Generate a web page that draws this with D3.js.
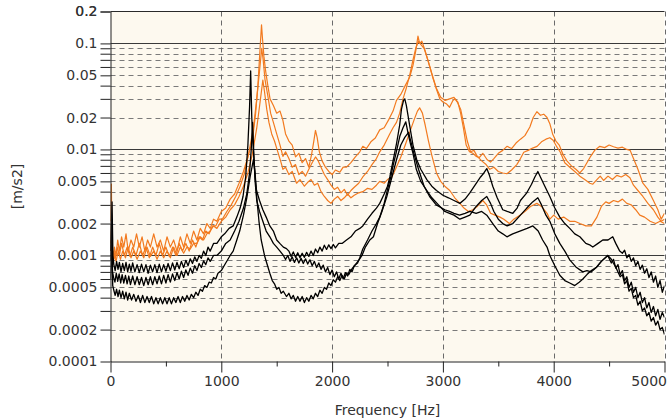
<!DOCTYPE html>
<html>
<head>
<meta charset="utf-8">
<script src="https://cdn.jsdelivr.net/npm/d3@7"></script>
<style>
  body { margin: 0; background: #fff; }
  svg { display: block; font-family: "DejaVu Sans", sans-serif; }
</style>
</head>
<body>
<script>
// spectra: [frequency Hz, acceleration m/s2]
const orange1 = [[0,0.0021],[8,0.0047],[14,0.0011],[22,0.00085],[35,0.0012],[50,0.001],[65,0.0014],[80,0.0011],[100,0.0015],[120,0.0012],[140,0.0016],[160,0.0011],[185,0.0014],[210,0.0012],[235,0.0016],[260,0.0012],[285,0.0015],[310,0.0011],[335,0.0014],[360,0.0012],[390,0.0016],[420,0.0012],[450,0.0014],[480,0.0011],[510,0.0015],[540,0.0012],[570,0.0014],[600,0.0011],[630,0.0015],[660,0.0012],[690,0.0016],[720,0.0013],[750,0.0017],[780,0.0014],[810,0.0018],[840,0.0016],[870,0.002],[900,0.0018],[930,0.0022],[960,0.0021],[1000,0.0026],[1040,0.0028],[1080,0.0034],[1120,0.0038],[1160,0.0048],[1200,0.0062],[1240,0.0085],[1280,0.012],[1310,0.022],[1330,0.04],[1350,0.09],[1363,0.15],[1372,0.11],[1385,0.075],[1400,0.055],[1420,0.04],[1440,0.03],[1470,0.026],[1500,0.022],[1530,0.023],[1555,0.019],[1580,0.014],[1610,0.012],[1640,0.011],[1670,0.0085],[1700,0.0092],[1730,0.0075],[1760,0.0082],[1790,0.0068],[1815,0.009],[1835,0.012],[1850,0.0151],[1865,0.013],[1885,0.0095],[1910,0.0078],[1940,0.0068],[1970,0.0062],[2000,0.0058],[2030,0.0064],[2070,0.0061],[2100,0.0068],[2130,0.0068],[2170,0.0075],[2210,0.0085],[2250,0.0095],[2277,0.0107],[2310,0.0102],[2350,0.0118],[2390,0.0128],[2430,0.0153],[2470,0.016],[2510,0.019],[2550,0.023],[2581,0.029],[2620,0.033],[2660,0.04],[2700,0.048],[2730,0.062],[2755,0.085],[2775,0.117],[2790,0.1],[2810,0.105],[2840,0.085],[2880,0.061],[2910,0.047],[2942,0.037],[2972,0.03],[3000,0.028],[3030,0.027],[3060,0.025],[3090,0.029],[3110,0.03],[3135,0.028],[3160,0.022],[3185,0.016],[3210,0.011],[3240,0.0095],[3270,0.0092],[3300,0.0086],[3330,0.0084],[3360,0.0092],[3400,0.008],[3430,0.0076],[3460,0.0082],[3500,0.0092],[3540,0.0098],[3578,0.0107],[3620,0.0102],[3660,0.0115],[3700,0.0125],[3740,0.0135],[3785,0.0163],[3815,0.02],[3848,0.0227],[3880,0.021],[3910,0.0215],[3940,0.02],[3965,0.0175],[3990,0.014],[4020,0.012],[4050,0.011],[4083,0.009],[4119,0.0078],[4160,0.007],[4200,0.0065],[4236,0.006],[4270,0.0066],[4300,0.0075],[4330,0.0085],[4370,0.0098],[4416,0.0107],[4460,0.0104],[4500,0.011],[4540,0.0106],[4580,0.0103],[4620,0.0105],[4660,0.01],[4690,0.0098],[4720,0.0082],[4760,0.0065],[4805,0.0048],[4850,0.0042],[4900,0.0033],[4940,0.0027],[4970,0.0022],[5000,0.0025]];

const orange2 = [[0,0.0013],[10,0.0024],[18,0.0009],[30,0.0011],[45,0.00095],[60,0.0012],[80,0.001],[100,0.0013],[125,0.001],[150,0.0012],[175,0.00098],[200,0.0012],[230,0.001],[260,0.0013],[290,0.001],[320,0.0012],[350,0.00095],[380,0.0012],[410,0.001],[440,0.0013],[470,0.001],[500,0.0012],[530,0.00098],[560,0.0012],[590,0.001],[620,0.0013],[650,0.0011],[680,0.0013],[710,0.0011],[740,0.0014],[770,0.0012],[800,0.0015],[830,0.0014],[860,0.0017],[890,0.0016],[920,0.0019],[950,0.0019],[980,0.0022],[1010,0.0022],[1050,0.0026],[1090,0.003],[1130,0.0036],[1170,0.0045],[1210,0.006],[1250,0.0095],[1290,0.016],[1320,0.03],[1345,0.055],[1365,0.09],[1378,0.07],[1395,0.045],[1420,0.032],[1445,0.022],[1470,0.018],[1500,0.014],[1530,0.011],[1556,0.0086],[1580,0.0095],[1610,0.0082],[1640,0.0068],[1670,0.0072],[1700,0.0058],[1730,0.0062],[1760,0.0056],[1790,0.0065],[1820,0.0075],[1850,0.0085],[1875,0.0078],[1900,0.0068],[1930,0.0058],[1960,0.0052],[1990,0.0046],[2020,0.0042],[2050,0.0044],[2080,0.0039],[2110,0.0042],[2140,0.0037],[2170,0.0041],[2200,0.0044],[2240,0.0048],[2277,0.0055],[2320,0.0062],[2360,0.0072],[2400,0.0082],[2430,0.0095],[2470,0.011],[2520,0.014],[2550,0.016],[2581,0.018],[2610,0.022],[2640,0.03],[2670,0.038],[2700,0.05],[2730,0.07],[2755,0.09],[2780,0.105],[2800,0.098],[2830,0.09],[2860,0.072],[2900,0.052],[2940,0.038],[2980,0.031],[3020,0.029],[3060,0.03],[3100,0.031],[3130,0.028],[3160,0.024],[3190,0.017],[3220,0.012],[3250,0.0095],[3280,0.0098],[3310,0.0086],[3350,0.0078],[3390,0.0072],[3423,0.0065],[3460,0.0068],[3500,0.0062],[3540,0.006],[3578,0.0059],[3620,0.0064],[3667,0.0072],[3700,0.0082],[3730,0.0094],[3770,0.0098],[3810,0.0103],[3850,0.0107],[3890,0.0118],[3930,0.0125],[3965,0.0129],[3995,0.0122],[4030,0.0105],[4060,0.0094],[4100,0.0075],[4145,0.0068],[4190,0.0062],[4236,0.0056],[4280,0.0052],[4326,0.0048],[4353,0.0047],[4390,0.0052],[4420,0.0056],[4450,0.0051],[4490,0.0056],[4530,0.0052],[4570,0.0057],[4610,0.0055],[4650,0.0058],[4688,0.0054],[4720,0.0046],[4760,0.0041],[4805,0.0036],[4850,0.0031],[4900,0.0027],[4940,0.0023],[4970,0.0021],[5000,0.0022]];

const orange3 = [[0,0.0011],[12,0.0016],[20,0.0008],[35,0.001],[50,0.00088],[70,0.0011],[90,0.00092],[110,0.0011],[135,0.00095],[160,0.0012],[185,0.00095],[210,0.0011],[240,0.00092],[270,0.0011],[300,0.00095],[330,0.0012],[360,0.00098],[390,0.0011],[420,0.00092],[450,0.0011],[480,0.00095],[510,0.0011],[540,0.00095],[570,0.0012],[600,0.001],[630,0.0012],[660,0.00105],[690,0.0012],[720,0.00115],[750,0.0013],[780,0.0013],[810,0.0015],[840,0.0014],[870,0.0016],[900,0.0017],[930,0.0019],[960,0.0018],[1000,0.0021],[1040,0.0023],[1080,0.0027],[1120,0.003],[1160,0.0036],[1200,0.0045],[1240,0.006],[1280,0.009],[1320,0.016],[1350,0.028],[1375,0.045],[1390,0.035],[1410,0.024],[1430,0.018],[1455,0.014],[1480,0.012],[1510,0.0095],[1535,0.0078],[1556,0.0065],[1580,0.0068],[1610,0.0058],[1640,0.0062],[1679,0.0048],[1710,0.0052],[1750,0.0045],[1780,0.0049],[1810,0.0052],[1840,0.0046],[1870,0.0048],[1900,0.004],[1930,0.0036],[1960,0.0033],[1990,0.0031],[2020,0.0034],[2050,0.0036],[2080,0.0033],[2110,0.0035],[2140,0.0038],[2170,0.0035],[2200,0.0037],[2240,0.0039],[2277,0.004],[2320,0.0043],[2360,0.0042],[2400,0.0046],[2430,0.005],[2470,0.0048],[2500,0.0052],[2540,0.0055],[2580,0.0068],[2620,0.0085],[2660,0.011],[2700,0.0145],[2740,0.019],[2770,0.023],[2790,0.0247],[2815,0.022],[2840,0.017],[2870,0.012],[2900,0.0088],[2942,0.006],[2980,0.005],[3017,0.0045],[3062,0.0041],[3107,0.0035],[3153,0.0031],[3190,0.0028],[3230,0.0026],[3270,0.0027],[3310,0.0029],[3360,0.0033],[3395,0.003],[3430,0.0025],[3470,0.0024],[3515,0.0023],[3550,0.0022],[3600,0.002],[3640,0.0022],[3695,0.0024],[3740,0.0026],[3790,0.0029],[3848,0.0031],[3890,0.0029],[3940,0.0025],[3965,0.0022],[4000,0.0024],[4040,0.0022],[4090,0.0023],[4145,0.0021],[4190,0.0021],[4236,0.002],[4290,0.0019],[4340,0.0019],[4390,0.0023],[4430,0.0029],[4470,0.0032],[4500,0.0031],[4540,0.0033],[4580,0.0032],[4620,0.0034],[4660,0.0031],[4700,0.003],[4740,0.0027],[4777,0.0024],[4820,0.0023],[4870,0.0021],[4920,0.002],[4960,0.0021],[5000,0.002]];

const black1 = [[0,0.0011],[14,0.0032],[22,0.001],[30,0.00082],[42,0.00072],[55,0.00088],[68,0.00074],[80,0.00086],[95,0.0007],[110,0.00084],[125,0.00072],[140,0.00086],[155,0.0007],[170,0.00083],[185,0.00071],[200,0.00085],[220,0.0007],[240,0.00082],[260,0.00069],[280,0.00083],[300,0.0007],[320,0.00082],[340,0.00068],[360,0.00081],[380,0.0007],[400,0.00082],[420,0.00069],[440,0.00083],[460,0.0007],[480,0.00082],[500,0.00071],[520,0.00084],[540,0.00072],[560,0.00085],[580,0.00073],[600,0.00086],[620,0.00075],[640,0.00088],[660,0.00077],[680,0.0009],[700,0.0008],[720,0.00093],[740,0.00084],[760,0.00097],[780,0.00088],[800,0.001],[820,0.00094],[840,0.0011],[860,0.001],[880,0.0012],[900,0.0011],[930,0.0013],[960,0.0013],[1000,0.0015],[1030,0.0016],[1070,0.0018],[1107,0.0019],[1140,0.0023],[1170,0.0028],[1196,0.0036],[1220,0.0055],[1240,0.011],[1255,0.025],[1265,0.055],[1275,0.02],[1290,0.0095],[1305,0.0055],[1318,0.0041],[1345,0.0033],[1375,0.0027],[1405,0.0023],[1438,0.0019],[1470,0.0017],[1500,0.0014],[1528,0.0013],[1560,0.0012],[1588,0.00116],[1610,0.0011],[1630,0.00098],[1650,0.00108],[1670,0.00096],[1690,0.00106],[1710,0.00095],[1730,0.00105],[1750,0.00096],[1770,0.00107],[1790,0.00098],[1810,0.0011],[1830,0.001],[1850,0.00115],[1870,0.00106],[1890,0.0012],[1910,0.0011],[1930,0.00125],[1950,0.00114],[1970,0.00126],[1990,0.00116],[2010,0.00127],[2030,0.00118],[2060,0.0013],[2090,0.0013],[2130,0.0014],[2170,0.0015],[2210,0.0017],[2250,0.0018],[2277,0.0019],[2320,0.0022],[2360,0.0025],[2400,0.0028],[2430,0.0031],[2470,0.0038],[2500,0.0045],[2521,0.0055],[2550,0.0078],[2581,0.0113],[2610,0.017],[2626,0.024],[2645,0.029],[2656,0.03],[2670,0.026],[2685,0.021],[2701,0.0166],[2730,0.011],[2764,0.008],[2800,0.0065],[2855,0.0052],[2900,0.0045],[2942,0.0041],[3000,0.0037],[3050,0.0035],[3100,0.0033],[3153,0.0031],[3200,0.0034],[3243,0.0039],[3290,0.0046],[3340,0.0055],[3370,0.006],[3396,0.0066],[3420,0.0057],[3450,0.0045],[3490,0.0035],[3540,0.0027],[3580,0.0026],[3631,0.0025],[3670,0.0028],[3700,0.0033],[3757,0.0039],[3800,0.0047],[3830,0.0055],[3857,0.0062],[3880,0.0055],[3920,0.0045],[3965,0.0036],[4010,0.0028],[4055,0.0023],[4100,0.002],[4145,0.0018],[4190,0.0016],[4236,0.0015],[4290,0.0013],[4330,0.00125],[4353,0.0012],[4400,0.0013],[4443,0.0014],[4490,0.0014],[4533,0.0015],[4560,0.0013],[4596,0.0011],[4620,0.00105],[4640,0.00112],[4660,0.00095],[4680,0.00102],[4700,0.00088],[4720,0.00095],[4740,0.0008],[4760,0.00088],[4780,0.00074],[4800,0.00081],[4820,0.00068],[4840,0.00075],[4860,0.00062],[4880,0.0007],[4900,0.00056],[4920,0.00064],[4940,0.0005],[4960,0.00058],[4980,0.00045],[5000,0.00052]];

const black2 = [[0,0.0009],[10,0.0022],[18,0.0007],[28,0.00062],[40,0.00056],[52,0.00068],[65,0.00057],[78,0.00067],[92,0.00055],[105,0.00066],[120,0.00055],[135,0.00065],[150,0.00054],[165,0.00064],[180,0.00053],[200,0.00064],[220,0.00053],[240,0.00063],[260,0.00053],[280,0.00062],[300,0.00052],[320,0.00062],[340,0.00053],[360,0.00063],[380,0.00053],[400,0.00063],[420,0.00054],[440,0.00064],[460,0.00054],[480,0.00065],[500,0.00055],[520,0.00066],[540,0.00056],[560,0.00067],[580,0.00058],[600,0.00069],[620,0.0006],[640,0.00071],[660,0.00062],[680,0.00073],[700,0.00065],[720,0.00076],[740,0.00068],[760,0.0008],[780,0.00072],[800,0.00084],[820,0.00077],[840,0.00089],[860,0.00082],[880,0.00095],[900,0.00088],[930,0.001],[960,0.001],[1000,0.0011],[1040,0.0013],[1080,0.0014],[1120,0.0017],[1160,0.0021],[1200,0.0028],[1230,0.0038],[1255,0.006],[1270,0.01],[1282,0.018],[1292,0.01],[1305,0.005],[1320,0.0033],[1345,0.0026],[1375,0.0021],[1405,0.0017],[1438,0.0015],[1470,0.0013],[1500,0.0012],[1530,0.0011],[1560,0.001],[1580,0.00092],[1600,0.001],[1620,0.00088],[1640,0.00097],[1660,0.00086],[1680,0.00095],[1700,0.00085],[1720,0.00094],[1740,0.00084],[1760,0.00093],[1780,0.00083],[1800,0.00091],[1820,0.0008],[1840,0.00088],[1860,0.00077],[1880,0.00085],[1900,0.00074],[1920,0.00081],[1940,0.0007],[1960,0.00077],[1980,0.00066],[2000,0.00073],[2020,0.00063],[2040,0.0007],[2060,0.0006],[2080,0.00068],[2100,0.0006],[2120,0.00069],[2140,0.00064],[2160,0.00074],[2180,0.0007],[2200,0.0008],[2230,0.00085],[2250,0.00095],[2277,0.00115],[2320,0.0014],[2360,0.0017],[2400,0.002],[2430,0.0023],[2470,0.0031],[2500,0.0042],[2530,0.0055],[2548,0.0069],[2580,0.0095],[2611,0.0133],[2640,0.016],[2665,0.0182],[2690,0.0135],[2710,0.011],[2728,0.0094],[2760,0.0065],[2800,0.005],[2855,0.0041],[2900,0.0035],[2960,0.003],[3017,0.0026],[3060,0.0025],[3100,0.0024],[3153,0.0022],[3200,0.0023],[3243,0.0024],[3300,0.0029],[3350,0.0033],[3396,0.0036],[3430,0.0031],[3460,0.0026],[3500,0.0022],[3540,0.002],[3580,0.0019],[3631,0.002],[3700,0.0024],[3757,0.0028],[3810,0.0032],[3857,0.0035],[3890,0.003],[3930,0.0024],[3965,0.0021],[4010,0.0016],[4055,0.0013],[4100,0.0011],[4145,0.00091],[4200,0.00078],[4263,0.0007],[4300,0.00072],[4340,0.0007],[4389,0.00078],[4430,0.00088],[4488,0.001],[4520,0.00085],[4540,0.00092],[4560,0.00076],[4580,0.00082],[4600,0.00066],[4620,0.00072],[4640,0.00058],[4660,0.00063],[4680,0.0005],[4700,0.00056],[4720,0.00045],[4740,0.0005],[4760,0.0004],[4780,0.00045],[4800,0.00036],[4820,0.0004],[4840,0.00032],[4860,0.00036],[4880,0.00029],[4900,0.00033],[4920,0.00027],[4940,0.00031],[4960,0.00025],[4980,0.00029],[5000,0.00026]];

const black3 = [[0,0.0006],[12,0.0013],[20,0.00052],[30,0.00047],[42,0.00042],[55,0.00048],[68,0.00041],[80,0.00047],[95,0.0004],[110,0.00046],[125,0.00039],[140,0.00045],[155,0.00038],[170,0.00044],[190,0.00038],[210,0.00043],[230,0.00037],[250,0.00042],[270,0.00036],[290,0.00042],[310,0.00036],[330,0.00041],[350,0.00036],[370,0.00041],[390,0.00035],[410,0.0004],[430,0.00035],[450,0.0004],[470,0.00035],[490,0.0004],[510,0.00035],[530,0.0004],[550,0.00035],[570,0.0004],[590,0.00036],[610,0.00041],[630,0.00036],[650,0.00041],[670,0.00037],[690,0.00042],[710,0.00038],[730,0.00043],[750,0.0004],[770,0.00045],[790,0.00042],[810,0.00048],[830,0.00046],[850,0.00052],[870,0.0005],[890,0.00056],[910,0.00055],[930,0.00062],[950,0.0006],[970,0.00068],[1000,0.00072],[1040,0.00085],[1080,0.001],[1107,0.0011],[1140,0.0014],[1166,0.0017],[1200,0.0024],[1230,0.0035],[1260,0.0055],[1290,0.008],[1305,0.006],[1320,0.0035],[1340,0.0021],[1360,0.0014],[1390,0.001],[1410,0.00085],[1438,0.00068],[1460,0.00058],[1480,0.00054],[1500,0.00048],[1520,0.0005],[1540,0.00044],[1560,0.00046],[1588,0.00041],[1610,0.00044],[1630,0.00039],[1650,0.00042],[1670,0.00037],[1690,0.00041],[1710,0.00037],[1730,0.00041],[1750,0.00036],[1770,0.0004],[1790,0.00037],[1810,0.00042],[1830,0.00039],[1850,0.00044],[1870,0.00041],[1890,0.00047],[1910,0.00044],[1930,0.0005],[1950,0.00048],[1970,0.00055],[1990,0.00052],[2010,0.00059],[2030,0.00056],[2050,0.00063],[2070,0.00058],[2090,0.00065],[2110,0.0006],[2130,0.00068],[2150,0.00066],[2180,0.00075],[2210,0.00082],[2240,0.0009],[2270,0.001],[2300,0.0012],[2340,0.0014],[2373,0.0015],[2410,0.002],[2450,0.0026],[2494,0.0036],[2540,0.0055],[2581,0.008],[2620,0.011],[2656,0.013],[2690,0.0145],[2710,0.012],[2740,0.009],[2780,0.0065],[2830,0.0045],[2880,0.0036],[2940,0.003],[3017,0.0027],[3060,0.0026],[3100,0.0025],[3150,0.0024],[3200,0.0025],[3243,0.0026],[3300,0.0025],[3350,0.0026],[3396,0.0024],[3450,0.002],[3500,0.0017],[3540,0.0016],[3578,0.0015],[3630,0.0016],[3695,0.0017],[3760,0.0018],[3812,0.0019],[3860,0.0017],[3900,0.0014],[3940,0.0012],[3965,0.001],[4010,0.0008],[4055,0.00065],[4100,0.00058],[4145,0.00055],[4190,0.00052],[4230,0.00056],[4263,0.0006],[4300,0.00066],[4340,0.00072],[4389,0.00078],[4430,0.00088],[4488,0.001],[4520,0.00092],[4540,0.00084],[4560,0.00078],[4580,0.0007],[4600,0.00063],[4620,0.00066],[4640,0.00054],[4660,0.00058],[4680,0.00046],[4700,0.00049],[4720,0.0004],[4740,0.00042],[4760,0.00034],[4780,0.00037],[4800,0.0003],[4820,0.00032],[4840,0.00027],[4860,0.00029],[4880,0.00024],[4900,0.00026],[4920,0.00022],[4940,0.00024],[4960,0.0002],[4980,0.00021],[5000,0.00018]];

// axis ticks
const xTicks = [0, 1000, 2000, 3000, 4000, 5000];
const xMinorTicks = [500, 1500, 2500, 3500, 4500];
const yTicks = [0.0001, 0.0002, 0.0005, 0.001, 0.002, 0.005, 0.01, 0.02, 0.05, 0.1, 0.2];
const yDecades = [0.0001, 0.001, 0.01, 0.1];

var svg_width = 667;
var svg_height = 420;
const plot = { left: 110.5, right: 664.5, top: 11.5, bottom: 361.5 };

const svg = d3.select('body')
    .append('svg')
    .attr('width', svg_width)
    .attr('height', svg_height);

const x = d3.scaleLinear().domain([0, 5000]).range([plot.left, plot.right]);
const y = d3.scaleLog().domain([0.0001, 0.2]).range([plot.bottom, plot.top]);

// 1..9 in every decade, like the log grid of the original
const yMinor = [];
yDecades.forEach(d => {
    for (let k = 1; k <= 9; k++) yMinor.push(+(d * k).toPrecision(2));
});
yMinor.push(0.2);

// cream plot area
svg.append('rect')
    .attr('x', plot.left).attr('y', plot.top)
    .attr('width', plot.right - plot.left)
    .attr('height', plot.bottom - plot.top)
    .attr('fill', '#fdf9ef');

// grid
const grid_g = svg.append('g');
yMinor.filter(v => v > 0.0001 && v < 0.2).forEach(v => {
    const major = yDecades.includes(v);
    grid_g.append('line')
        .attr('x1', plot.left).attr('x2', plot.right)
        .attr('y1', Math.round(y(v)) + 0.5).attr('y2', Math.round(y(v)) + 0.5)
        .attr('stroke', major ? '#3a3a3a' : '#7a7a7a')
        .attr('stroke-width', 1)
        .attr('stroke-dasharray', major ? null : '5,4');
});
xTicks.filter(v => v > 0).forEach(v => {
    grid_g.append('line')
        .attr('x1', Math.round(x(v)) + 0.5).attr('x2', Math.round(x(v)) + 0.5)
        .attr('y1', plot.top).attr('y2', plot.bottom)
        .attr('stroke', '#6a6a6a')
        .attr('stroke-width', 1)
        .attr('stroke-dasharray', '5,4');
});

// top border at 0.2
svg.append('line')
    .attr('x1', plot.left).attr('x2', plot.right)
    .attr('y1', y(0.2)).attr('y2', y(0.2))
    .attr('stroke', '#2a2a2a');

// clip for the spectra
svg.append('clipPath').attr('id', 'clip')
    .append('rect')
    .attr('x', plot.left).attr('y', plot.top)
    .attr('width', plot.right - plot.left)
    .attr('height', plot.bottom - plot.top);

const line = d3.line().x(d => x(d[0])).y(d => y(d[1]));
const lines_g = svg.append('g').attr('clip-path', 'url(#clip)');

[orange1, orange2, orange3].forEach(s => {
    lines_g.append('path').datum(s)
        .attr('d', line)
        .attr('fill', 'none')
        .attr('stroke', '#f27a1f')
        .attr('stroke-width', 1.2)
        .attr('stroke-linejoin', 'round');
});
[black1, black2, black3].forEach(s => {
    lines_g.append('path').datum(s)
        .attr('d', line)
        .attr('fill', 'none')
        .attr('stroke', '#000')
        .attr('stroke-width', 1.3)
        .attr('stroke-linejoin', 'round');
});

// axes
const isLabel = v => yTicks.some(t => Math.abs(t - v) < 1e-12);

svg.append('g')
    .attr('transform', `translate(${plot.left},0)`)
    .call(d3.axisLeft(y).tickValues(yMinor).tickSize(10).tickSizeOuter(0).tickPadding(3)
        .tickFormat(v => isLabel(v) ? String(v) : ''))
    .attr('font-size', 14)
    .attr('font-family', '"DejaVu Sans", sans-serif')
    .attr('color', '#222');

const xAxis_g = svg.append('g')
    .attr('transform', `translate(0,${plot.bottom})`)
    .call(d3.axisBottom(x).tickValues(xTicks).tickSize(11).tickSizeOuter(0).tickPadding(4)
        .tickFormat(d3.format('d')))
    .attr('font-size', 14)
    .attr('font-family', '"DejaVu Sans", sans-serif')
    .attr('color', '#222');

// last label sits flush with the right edge, as in the original
xAxis_g.selectAll('.tick text')
    .filter(d => d === 5000)
    .attr('text-anchor', 'end')
    .attr('x', 2);

svg.append('g')
    .attr('transform', `translate(0,${plot.bottom})`)
    .call(d3.axisBottom(x).tickValues(xMinorTicks).tickSize(5).tickFormat(''))
    .attr('color', '#222')
    .select('.domain').remove();

svg.selectAll('.tick text').attr('fill', '#333');

// axis titles
svg.append('text')
    .attr('x', x(2500))
    .attr('y', 415)
    .attr('text-anchor', 'middle')
    .attr('font-size', 14)
    .attr('fill', '#333')
    .text('Frequency [Hz]');

svg.append('text')
    .attr('transform', `translate(22,${(plot.top + plot.bottom) / 2}) rotate(-90)`)
    .attr('text-anchor', 'middle')
    .attr('font-size', 14)
    .attr('fill', '#333')
    .text('[m/s2]');
</script>
</body>
</html>
